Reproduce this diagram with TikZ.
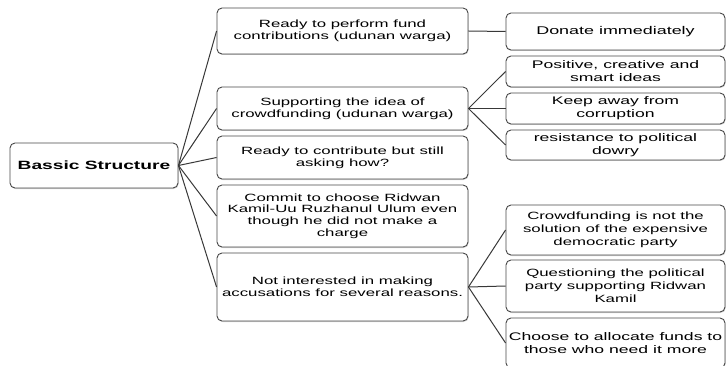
\documentclass[tikz,border=0pt]{standalone}
\usepackage{fontspec}
\setmainfont[FakeStretch=1.6]{Liberation Sans}
\usetikzlibrary{shadows}
\begin{document}
\begin{tikzpicture}[x=1pt,y=-1pt,
  basebox/.style={draw=black!72, line width=0.9pt, rounded corners=5pt, fill=white,
    inner sep=0pt, align=center,
    drop shadow={shadow xshift=0.6pt, shadow yshift=-1pt, opacity=0.35, fill=black!50}},
  rootbox/.style={basebox, minimum width=168pt, font=\bfseries\fontsize{12}{14}\selectfont},
  lvlone/.style={basebox, minimum width=251pt, font=\fontsize{10.5}{11.8}\selectfont},
  lvltwo/.style={basebox, minimum width=219pt, font=\fontsize{11}{13}\selectfont},
  conn/.style={draw=black!78, line width=1pt}
]
\useasboundingbox (0,0) rectangle (727,366);

\node[rootbox, minimum height=45pt] (root) at (94,165.5) {Bassic Structure};

\node[lvlone, minimum height=46pt] (a1) at (342.5,31) {Ready to perform fund\\contributions (udunan warga)};
\node[lvlone, minimum height=43pt] (a2) at (342.5,108.5) {Supporting the idea of\\crowdfunding (udunan warga)};
\node[lvlone, minimum height=43pt] (a3) at (342.5,157.5) {Ready to contribute but still\\asking how?};
\node[lvlone, minimum height=62pt] (a4) at (342.5,216) {Commit to choose Ridwan\\Kamil-Uu Ruzhanul Ulum even\\though he did not make a\\charge};
\node[lvlone, minimum height=68pt] (a5) at (342.5,287) {Not interested in making\\accusations for several reasons.};

\node[lvltwo, minimum height=37pt, font=\fontsize{11.2}{13}\selectfont] (b1) at (615.5,31.5) {Donate immediately};
\node[lvltwo, minimum height=31pt] (b2) at (615.5,71.5) {Positive, creative and\\smart ideas};
\node[lvltwo, minimum height=31pt] (b3) at (615.5,108.5) {Keep away from\\corruption};
\node[lvltwo, minimum height=30pt] (b4) at (615.5,145) {resistance to political\\dowry};
\node[lvltwo, minimum height=50pt, font=\fontsize{10.5}{13.2}\selectfont] (b5) at (615.5,230) {Crowdfunding is not the\\solution of the expensive\\democratic party};
\node[lvltwo, minimum height=52pt, font=\fontsize{10.5}{13.2}\selectfont] (b6) at (615.5,286) {Questioning the political\\party supporting Ridwan\\Kamil};
\node[lvltwo, minimum height=50pt, font=\fontsize{11}{13}\selectfont] (b7) at (615.5,343) {Choose to allocate funds to\\those who need it more};

\foreach \t in {a1,a2,a3,a4,a5} \draw[conn] (root.east) -- (\t.west);
\draw[conn] (a1.east) -- (b1.west);
\foreach \t in {b2,b3,b4} \draw[conn] (a2.east) -- (\t.west);
\foreach \t in {b5,b6,b7} \draw[conn] (a5.east) -- (\t.west);
\end{tikzpicture}
\end{document}
